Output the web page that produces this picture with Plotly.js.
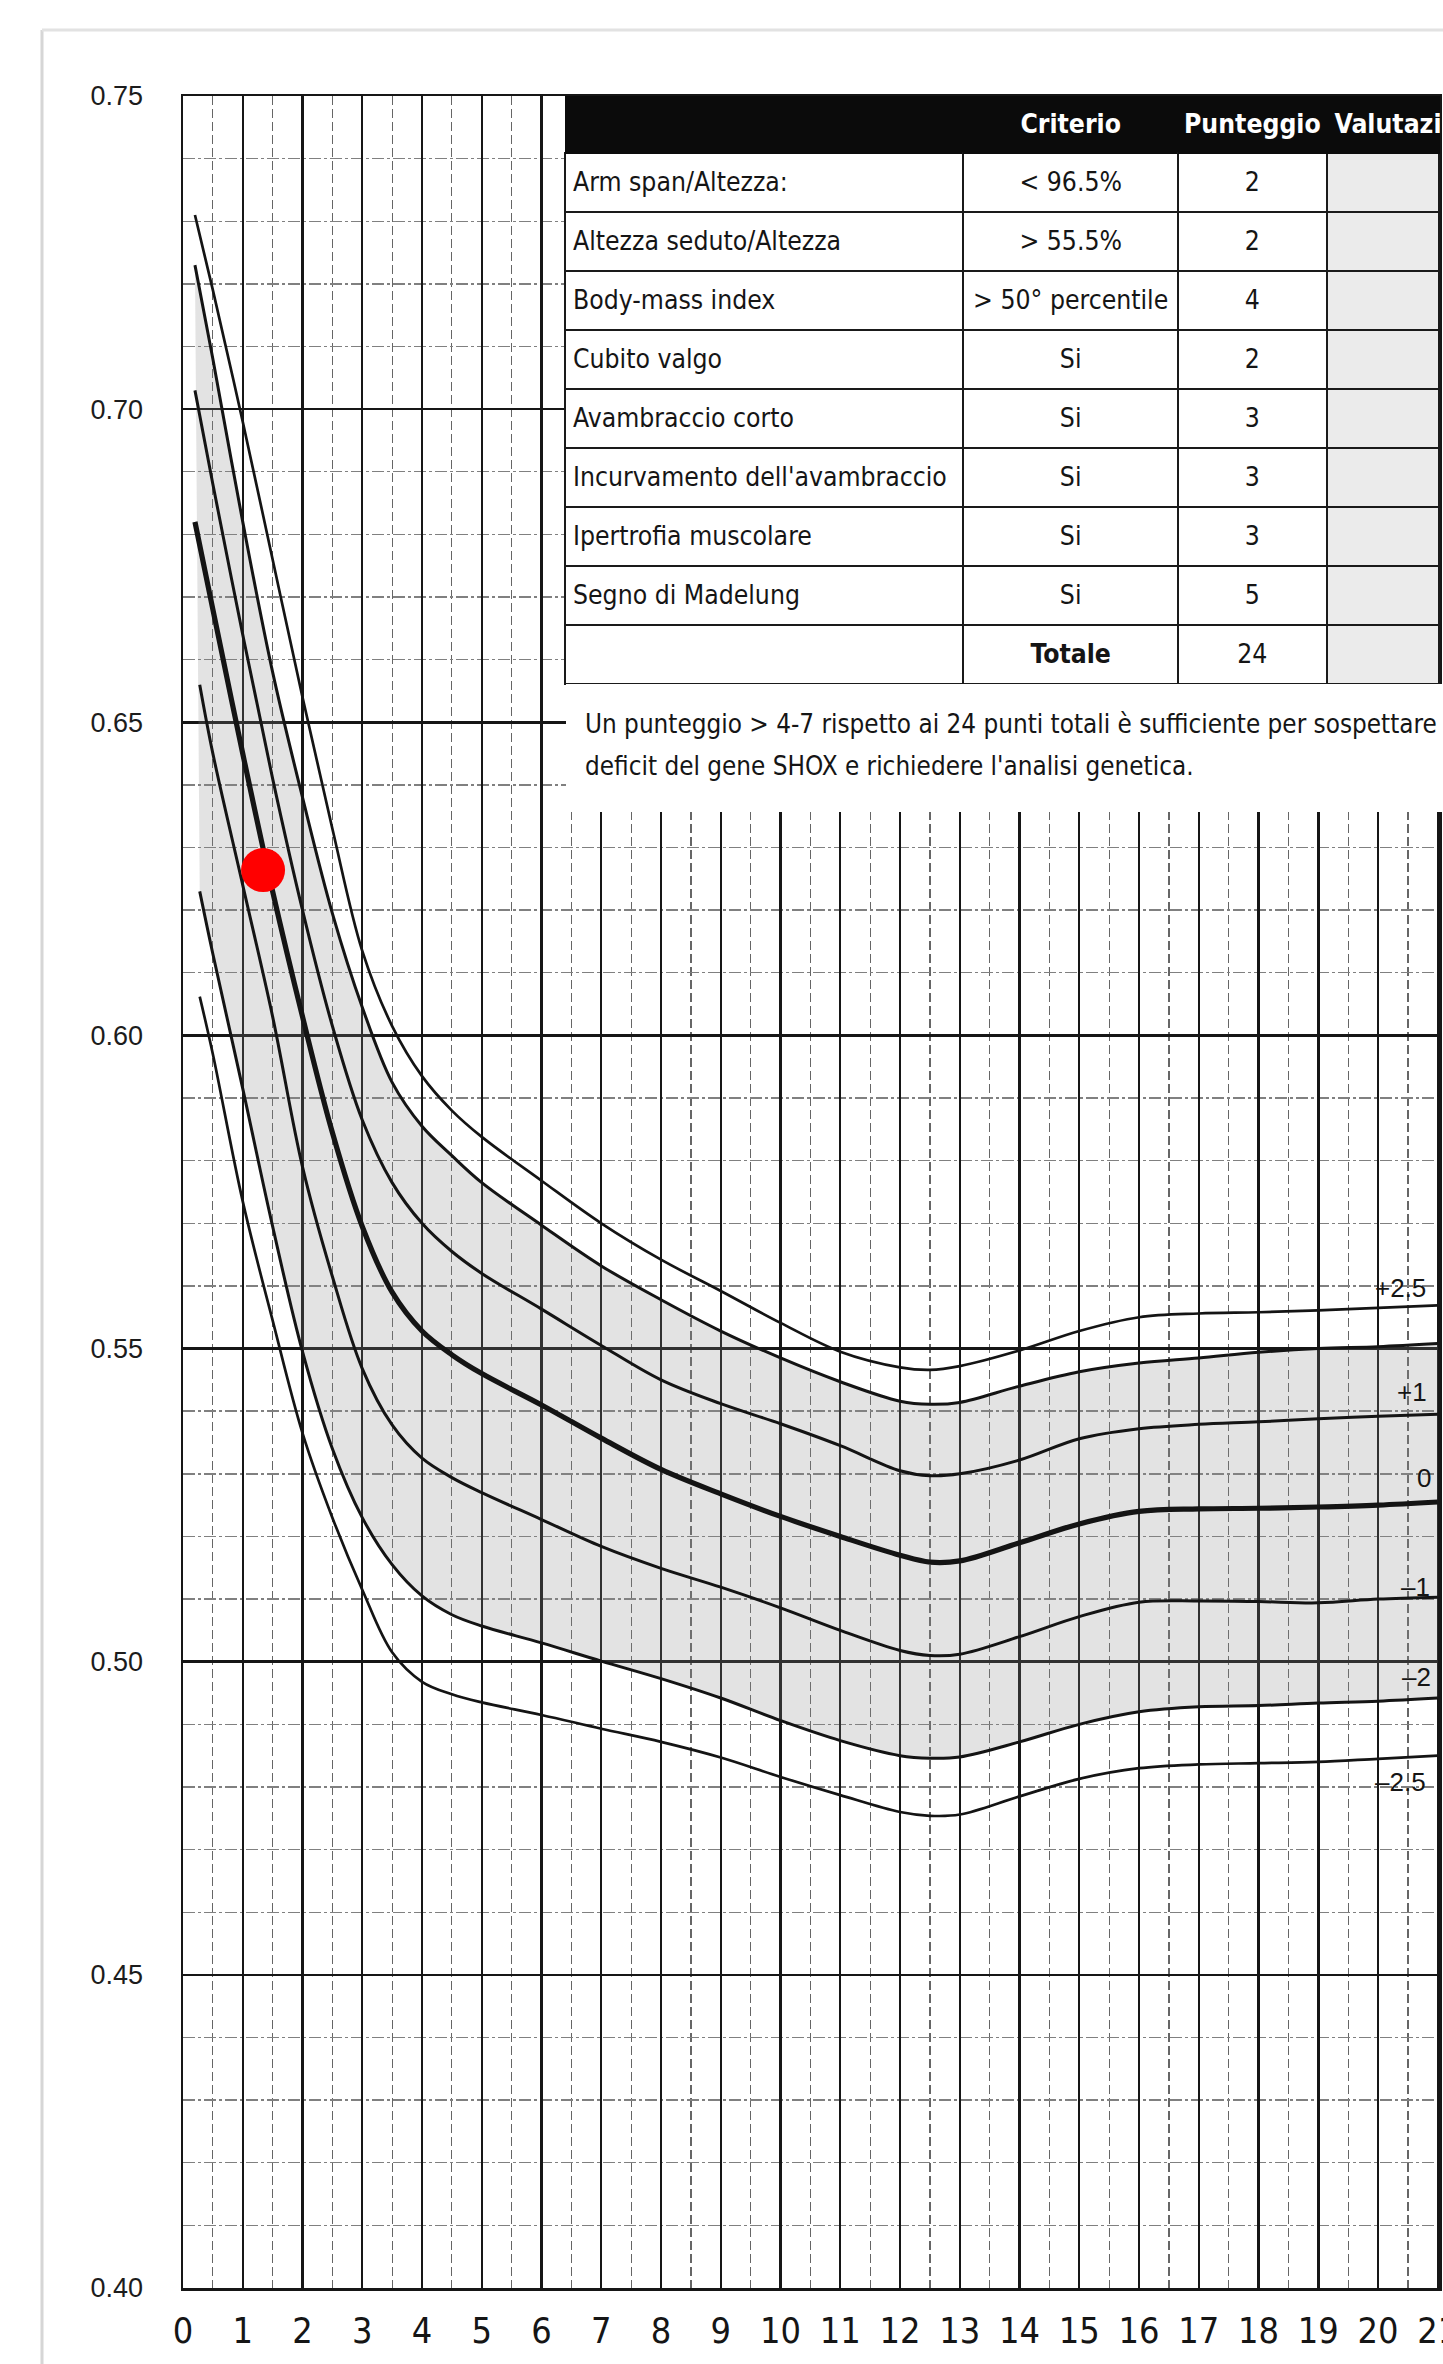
<!DOCTYPE html>
<html>
<head>
<meta charset="utf-8">
<script src="https://cdn.plot.ly/plotly-3.0.1.min.js"></script>
<style>
html,body{margin:0;padding:0;background:#fff;}
#chart{width:1443px;height:2364px;}
</style>
</head>
<body>
<div id="chart"></div>
<script>
// ---------------- DATA ----------------
const xTickVals = [0,1,2,3,4,5,6,7,8,9,10,11,12,13,14,15,16,17,18,19,20,21];
const yTickVals = [0.40,0.45,0.50,0.55,0.60,0.65,0.70,0.75];

// ages (years) shared by the upper curves
const ages = [0.2,0.5,1,1.5,2,2.5,3,3.5,4,4.5,5,6,7,8,9,10,11,12,12.5,13,14,15,16,17,18,19,20,21];
// +2.5 SDS
const valsP25 = [0.731,0.719,0.698,0.676,0.654,0.633,0.6135,0.6015,0.5935,0.5880,0.5838,0.5768,0.5700,0.5642,0.5592,0.5541,0.5495,0.5470,0.5466,0.5472,0.5497,0.5528,0.5550,0.5556,0.5558,0.5561,0.5565,0.5569];
// +2 SDS
const valsP2 = [0.723,0.708,0.682,0.658,0.638,0.6195,0.6045,0.5925,0.5855,0.5808,0.5765,0.5697,0.5632,0.5578,0.5528,0.5485,0.5447,0.5416,0.5411,0.5414,0.5440,0.5463,0.5477,0.5485,0.5494,0.5500,0.5503,0.5508];
// +1 SDS
const valsP1 = [0.703,0.688,0.664,0.641,0.620,0.6015,0.5865,0.5765,0.5700,0.5655,0.5620,0.5563,0.5505,0.5450,0.5412,0.5380,0.5345,0.5305,0.5297,0.5300,0.5322,0.5356,0.5372,0.5379,0.5383,0.5388,0.5392,0.5395];
// 0 SDS
const vals0 = [0.682,0.668,0.645,0.623,0.603,0.5845,0.5695,0.5590,0.5528,0.5490,0.5460,0.5410,0.5357,0.5307,0.5268,0.5232,0.5200,0.5170,0.5159,0.5161,0.5190,0.5220,0.5240,0.5244,0.5245,0.5247,0.5250,0.5255];

// ages (years) for the lower curves (they start a little later)
const agesLow = [0.28,0.5,1,1.5,2,2.5,3,3.5,4,4.5,5,6,7,8,9,10,11,12,12.5,13,14,15,16,17,18,19,20,21];
// -1 SDS
const valsM1 = [0.656,0.645,0.624,0.603,0.579,0.5615,0.5468,0.5378,0.5325,0.5294,0.5270,0.5227,0.5184,0.5149,0.5119,0.5086,0.5050,0.5018,0.5010,0.5012,0.5040,0.5072,0.5095,0.5097,0.5096,0.5094,0.5100,0.5103];
// -2 SDS
const valsM2 = [0.623,0.613,0.5915,0.5695,0.5495,0.5340,0.5230,0.5155,0.5105,0.5075,0.5057,0.5030,0.5001,0.4973,0.4942,0.4906,0.4874,0.4850,0.4846,0.4848,0.4872,0.4900,0.4920,0.4928,0.4930,0.4934,0.4937,0.4942];
// -2.5 SDS
const valsM25 = [0.6062,0.597,0.5735,0.5545,0.5365,0.5230,0.5115,0.5015,0.4968,0.4948,0.4935,0.4915,0.4893,0.4872,0.4847,0.4816,0.4787,0.4760,0.4754,0.4756,0.4785,0.4813,0.4830,0.4836,0.4838,0.4840,0.4845,0.4850];

// curve labels
const curveLabels = ['+2.5','+1','0','\u20131','\u20132','\u20132.5'];
const curveLabelX = [20.38,20.57,20.77,20.62,20.65,20.38];
const curveLabelY = [0.5597,0.5431,0.5293,0.5120,0.4976,0.4808];

// patient point
const patientAge = [1.34];
const patientVal = [0.6264];

// table
const tableHeader = ['', '<b>Criterio</b>', '<b>Punteggio</b>', '<b>Valutazione</b>'];
const criteriNames = ['Arm span/Altezza:','Altezza seduto/Altezza','Body-mass index','Cubito valgo','Avambraccio corto',"Incurvamento dell'avambraccio",'Ipertrofia muscolare','Segno di Madelung',''];
const criteriValues = ['&lt;\u00a096.5%','&gt;\u00a055.5%','&gt;\u00a050\u00b0\u00a0percentile','Si','Si','Si','Si','Si','<b>Totale</b>'];
const punteggi = ['2','2','4','2','3','3','3','5','24'];
const valutazioni = ['','','','','','','','',''];

const noteLine1 = 'Un punteggio &gt; 4-7 rispetto ai 24 punti totali \u00e8 sufficiente per sospettare';
const noteLine2 = "deficit del gene SHOX e richiedere l'analisi genetica.";

// ---------------- FONTS ----------------
const cv = document.createElement('canvas').getContext('2d');
function available(name){
  const t = "Incurvamento dell'avambraccio 0123456789";
  cv.font = '40px monospace'; const a = cv.measureText(t).width;
  cv.font = '40px "'+name+'", monospace'; const b = cv.measureText(t).width;
  cv.font = '40px serif'; const c = cv.measureText(t).width;
  cv.font = '40px "'+name+'", serif'; const d = cv.measureText(t).width;
  return Math.abs(a-b) > 0.5 || Math.abs(c-d) > 0.5;
}
const cands = ['Liberation Sans Narrow','DejaVu Sans Condensed','Roboto Condensed','Open Sans Condensed','Roboto'];
const condName = cands.find(available) || 'Roboto';
const condFam = '"' + condName + '", Roboto, sans-serif';
function wAt(text, fam, size, weight){
  cv.font = (weight||'normal') + ' ' + size + 'px ' + fam;
  return cv.measureText(text).width;
}
const cellSize = Math.min(34, 374 / wAt("Incurvamento dell'avambraccio", condFam, 100) * 100);
const noteSize = Math.min(34, 852 / wAt('Un punteggio > 4-7 rispetto ai 24 punti totali \u00e8 sufficiente per sospettare', condFam, 100) * 100);
const xTickSize = Math.min(41, 20.5 / (wAt('0', condFam, 100) / 100));
const plainFam = '"Liberation Sans", Arial, "DejaVu Sans", sans-serif';

// ---------------- GEOMETRY (pixels) ----------------
const W = 1443, H = 2364;
const mL = 183, mR = 4, mT = 96, mB = 76;
const pw = W - mL - mR, ph = H - mT - mB;
const px2paperX = p => (p - mL) / pw;
const px2paperY = p => (H - mB - p) / ph;

// ---------------- TRACES ----------------
const lineBase = {color:'#141414', width:3, shape:'spline', smoothing:1};
function curve(x, y, w, extra){
  return Object.assign({type:'scatter', mode:'lines', x:x, y:y, hoverinfo:'skip',
    line:Object.assign({}, lineBase, {width:w})}, extra||{});
}
const traces = [
  curve(agesLow, valsM25, 2.7),
  curve(agesLow, valsM2, 3),
  curve(ages, valsP2, 3, {fill:'tonexty', fillcolor:'rgba(140,140,140,0.24)'}),
  curve(ages, valsP25, 2.7),
  curve(ages, valsP1, 3),
  curve(ages, vals0, 5.2),
  curve(agesLow, valsM1, 3),
  {type:'scatter', mode:'markers', x:patientAge, y:patientVal, hoverinfo:'skip',
   marker:{color:'#ff0000', size:44, line:{width:0}}},
  {type:'table',
   domain:{x:[px2paperX(565), 1], y:[px2paperY(700), 1]},
   columnwidth:[400,216,149,113],
   header:{values:tableHeader, align:['left','center','center','left'], height:57,
     fill:{color:'#0b0b0b'}, line:{color:'#0b0b0b', width:1},
     font:{family:condFam, size:cellSize, color:'#ffffff'}},
   cells:{values:[criteriNames, criteriValues, punteggi, valutazioni],
     align:['left','center','center','left'], height:59,
     fill:{color:[Array(9).fill('#ffffff'),Array(9).fill('#ffffff'),Array(9).fill('#ffffff'),Array(9).fill('#ebebeb')]},
     line:{color:'#1a1a1a', width:2},
     font:{family:condFam, size:cellSize, color:'#151515'}}
  }
];

// ---------------- ANNOTATIONS ----------------
const annotations = curveLabels.map((t,i)=>({
  x:curveLabelX[i], y:curveLabelY[i], xref:'x', yref:'y', text:t, showarrow:false,
  xanchor:'center', yanchor:'middle', font:{family:plainFam, size:26, color:'#151515'}
}));
annotations.push({x:px2paperX(583), y:px2paperY(724), xref:'paper', yref:'paper', text:noteLine1,
  showarrow:false, xanchor:'left', yanchor:'middle', font:{family:condFam, size:noteSize, color:'#151515'}});
annotations.push({x:px2paperX(583), y:px2paperY(766), xref:'paper', yref:'paper', text:noteLine2,
  showarrow:false, xanchor:'left', yanchor:'middle', font:{family:condFam, size:noteSize, color:'#151515'}});

// ---------------- SHAPES ----------------
const shapes = [
  {type:'rect', xref:'paper', yref:'paper', x0:px2paperX(566), x1:px2paperX(1450), y0:px2paperY(812), y1:px2paperY(684),
   fillcolor:'#ffffff', line:{width:0}, layer:'above'},
  {type:'line', xref:'paper', yref:'paper', x0:px2paperX(42), x1:px2paperX(42), y0:px2paperY(30), y1:px2paperY(H+5),
   line:{color:'#d6d6d6', width:3}, layer:'below'},
  {type:'line', xref:'paper', yref:'paper', x0:px2paperX(42), x1:px2paperX(W+5), y0:px2paperY(30), y1:px2paperY(30),
   line:{color:'#e2e2e2', width:3}, layer:'below'}
];

const layout = {
  width:W, height:H,
  margin:{l:mL, r:mR, t:mT, b:mB, pad:0},
  paper_bgcolor:'#ffffff', plot_bgcolor:'#ffffff',
  showlegend:false, hovermode:false,
  xaxis:{range:[0, 21.02], tickmode:'array', tickvals:xTickVals, ticktext:xTickVals.map(String),
    showgrid:true, gridcolor:'#161616', gridwidth:2.4, zeroline:false,
    showline:true, linecolor:'#161616', linewidth:2.5, mirror:true, ticks:'', ticklabelstandoff:10,
    ticklabeloverflow:'allow',
    tickfont:{family:condFam, size:xTickSize, color:'#151515'},
    minor:{tickmode:'linear', tick0:0, dtick:0.5, showgrid:true, gridcolor:'#666666', gridwidth:1.2, griddash:'9px,4px'}},
  yaxis:{range:[0.40, 0.75], tickmode:'array', tickvals:yTickVals, ticktext:yTickVals.map(v=>v.toFixed(2)),
    showgrid:true, gridcolor:'#161616', gridwidth:2.5, zeroline:false,
    showline:true, linecolor:'#161616', linewidth:2.5, mirror:true, ticks:'', ticklabelstandoff:32,
    tickfont:{family:plainFam, size:27, color:'#1c1c1c'},
    minor:{tickmode:'linear', tick0:0.40, dtick:0.01, showgrid:true, gridcolor:'#808080', gridwidth:1.4, griddash:'12px,3px,3px,3px'}},
  annotations:annotations,
  shapes:shapes
};

Plotly.newPlot('chart', traces, layout, {staticPlot:true, displayModeBar:false}).then(function(gd){
  // vertically centre the text inside each table cell
  gd.querySelectorAll('g.column-cell').forEach(function(cell){
    const rect = cell.querySelector('rect.cell-rect');
    const holder = cell.querySelector('g.cell-text-holder');
    const txt = cell.querySelector('text.cell-text');
    if(!rect || !holder || !txt || !txt.textContent) return;
    const rb = rect.getBoundingClientRect();
    const tb = txt.getBoundingClientRect();
    if(!tb.height) return;
    const dy = (rb.top + rb.height/2) - (tb.top + tb.height/2) - 1;
    holder.setAttribute('transform', (holder.getAttribute('transform')||'') + ' translate(0,' + dy.toFixed(1) + ')');
  });
});
</script>
</body>
</html>
